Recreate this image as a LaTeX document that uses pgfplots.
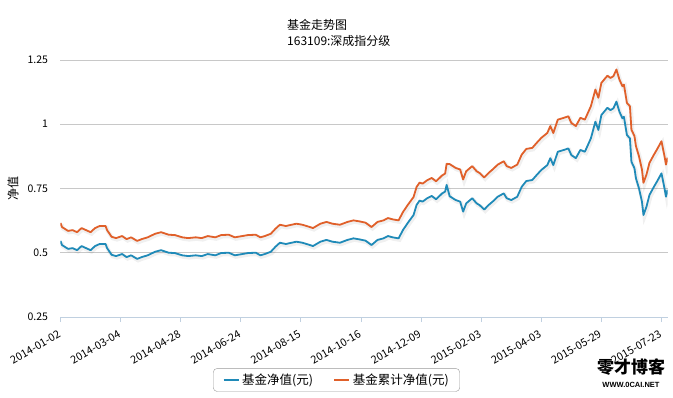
\documentclass[border=0pt]{standalone}
\usepackage{pgfplots}
\pgfplotsset{compat=1.18}
\usepackage{pgfplotstable}
\usepackage{fontspec}
\setmainfont{Noto Sans CJK SC}
\newfontfamily\latinfont{Liberation Sans}
\definecolor{navblue}{HTML}{1F8AB8}
\definecolor{accorange}{HTML}{E0602A}
\definecolor{gridgray}{HTML}{C8C8C8}
\definecolor{axisblue}{HTML}{C0D0E0}

\pgfplotstableread{
idx nav acc
0 0.546 0.616
1 0.530 0.600
5 0.515 0.585
8 0.518 0.588
11 0.510 0.580
14 0.526 0.596
17 0.518 0.588
20 0.510 0.580
23 0.526 0.596
26 0.534 0.604
30 0.534 0.604
31 0.518 0.588
34 0.492 0.562
37 0.487 0.557
41 0.495 0.565
44 0.483 0.553
47 0.490 0.560
51 0.476 0.546
54 0.483 0.553
58 0.490 0.560
63 0.504 0.574
67 0.510 0.580
72 0.500 0.570
76 0.499 0.569
81 0.490 0.560
85 0.487 0.557
90 0.490 0.560
94 0.487 0.557
98 0.495 0.565
103 0.490 0.560
107 0.499 0.569
112 0.500 0.570
116 0.490 0.560
121 0.495 0.565
125 0.499 0.569
130 0.500 0.570
133 0.490 0.560
136 0.495 0.565
140 0.504 0.574
143 0.523 0.593
146 0.539 0.609
150 0.534 0.604
153 0.538 0.608
157 0.543 0.613
161 0.539 0.609
166 0.530 0.600
168 0.526 0.596
173 0.543 0.613
177 0.550 0.620
181 0.543 0.613
186 0.539 0.609
191 0.550 0.620
195 0.556 0.626
199 0.552 0.622
203 0.547 0.617
207 0.530 0.600
211 0.550 0.620
215 0.556 0.626
218 0.565 0.635
221 0.560 0.630
225 0.556 0.626
228 0.589 0.659
231 0.615 0.685
235 0.647 0.717
237 0.686 0.756
239 0.703 0.773
241 0.699 0.769
244 0.712 0.782
247 0.721 0.791
250 0.708 0.778
254 0.731 0.801
256 0.738 0.808
257 0.764 0.846
259 0.720 0.845
263 0.705 0.830
266 0.699 0.824
268 0.660 0.785
270 0.692 0.817
274 0.712 0.837
277 0.692 0.817
279 0.685 0.810
282 0.668 0.793
285 0.686 0.811
288 0.701 0.826
291 0.718 0.843
295 0.731 0.856
297 0.712 0.837
300 0.705 0.830
304 0.718 0.843
307 0.757 0.882
310 0.779 0.904
314 0.783 0.908
317 0.803 0.928
320 0.822 0.947
324 0.841 0.966
326 0.868 0.993
328 0.841 0.966
331 0.893 1.018
335 0.900 1.025
338 0.906 1.031
340 0.880 1.005
343 0.868 0.993
346 0.900 1.025
349 0.893 1.018
353 0.945 1.070
356 1.010 1.135
358 0.978 1.103
360 1.036 1.161
364 1.064 1.189
366 1.055 1.180
368 1.062 1.187
370 1.088 1.213
372 1.049 1.174
374 1.023 1.148
375 1.029 1.154
377 0.958 1.083
379 0.945 1.070
380 0.854 0.979
382 0.829 0.954
383 0.790 0.915
385 0.751 0.876
387 0.699 0.824
388 0.647 0.772
390 0.679 0.804
392 0.725 0.850
395 0.757 0.882
397 0.777 0.902
400 0.809 0.934
402 0.751 0.876
403 0.718 0.843
404 0.745 0.870
}\fundtable

\begin{document}
\begin{tikzpicture}[x=1pt,y=1pt]
\path[use as bounding box] (0,0) rectangle (673,397);
\node[anchor=west,inner sep=0pt,font=\fontsize{12}{12}\selectfont] at (287,372) {基金走势图};
\node[anchor=west,inner sep=0pt,font=\fontsize{12}{12}\selectfont] at (287,356) {163109:深成指分级};
\begin{axis}[
  at={(60.5pt,80pt)}, anchor=south west,
  scale only axis, width=607pt, height=257pt,
  xmin=0, xmax=404, ymin=0.25, ymax=1.25,
  axis x line*=bottom, axis y line*=left,
  y axis line style={draw=none},
  x axis line style={draw=axisblue, line width=0.8pt},
  ytick={0.25,0.5,0.75,1,1.25},
  yticklabels={0.25,0.5,0.75,1,1.25},
  ytick style={draw=none},
  ymajorgrids, grid style={gridgray, line width=0.6pt},
  xtick={0,40,...,400},
  xticklabels={2014-01-02,2014-03-04,2014-04-28,2014-06-24,2014-08-15,2014-10-16,2014-12-09,2015-02-03,2015-04-03,2015-05-29,2015-07-23},
  xtick style={draw=axisblue, line width=0.8pt},
  major tick length=5pt,
  tick align=outside,
  xticklabel style={rotate=30, anchor=east, font=\fontsize{10.8}{10.8}\selectfont, yshift=-9pt, xshift=-3pt},
  yticklabel style={font=\fontsize{10.5}{10.5}\selectfont, xshift=-4pt},
  ylabel={净值},
  ylabel style={at={(axis description cs:-0.078,0.5)}, anchor=center, font=\fontsize{12}{12}\selectfont},
  legend style={at={(axis description cs:0.4547,-0.245)}, anchor=center, legend columns=2,
    draw=gray!80, rounded corners=4pt, font=\fontsize{12.5}{12.5}\selectfont,
    inner xsep=9pt, inner ysep=3.5pt,
    /tikz/every even column/.append style={column sep=18pt}},
  legend image code/.code={\draw[#1,line width=2.8pt] (0pt,0pt) -- (15pt,0pt);},
]
\addplot[forget plot, draw=black, opacity=0.06, line width=4pt, xshift=1pt, yshift=-1.5pt] table[x=idx,y=nav]{\fundtable};
\addplot[forget plot, draw=black, opacity=0.06, line width=4pt, xshift=1pt, yshift=-1.5pt] table[x=idx,y=acc]{\fundtable};
\addplot[navblue, line width=1.8pt, line join=round] table[x=idx,y=nav]{\fundtable};
\addlegendentry{基金净值(元)}
\addplot[accorange, line width=1.8pt, line join=round] table[x=idx,y=acc]{\fundtable};
\addlegendentry{基金累计净值(元)}
\end{axis}
\node[font=\bfseries\fontsize{17}{17}\selectfont] at (631,30) {零才博客};
\node[font=\latinfont\bfseries\fontsize{7.5}{7.5}\selectfont] at (631,12) {WWW.0CAI.NET};
\end{tikzpicture}
\end{document}
